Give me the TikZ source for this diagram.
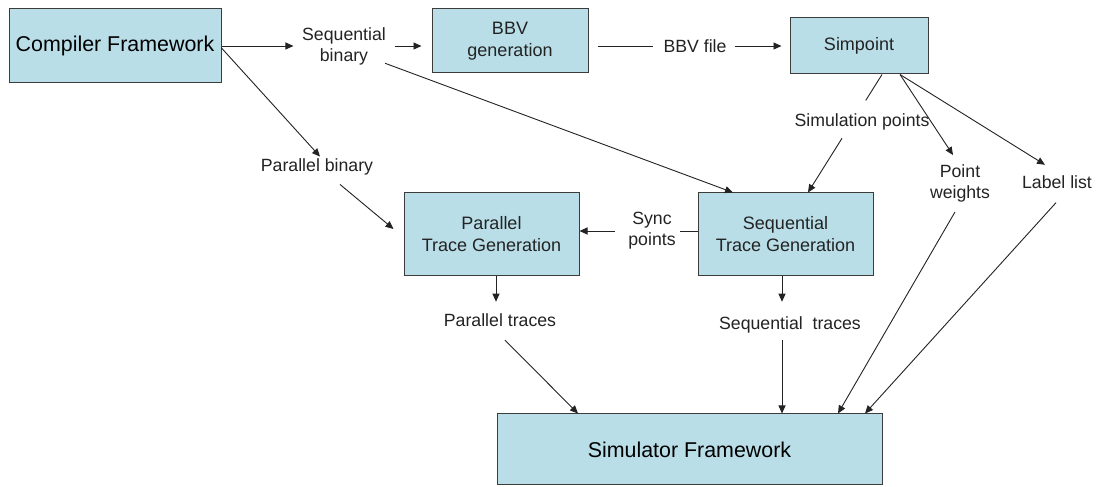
\documentclass[tikz,border=0pt]{standalone}
\usepackage{fontspec}
\setmainfont{Liberation Sans}
\usetikzlibrary{arrows.meta,calc}
\definecolor{boxfill}{RGB}{185,222,232}
\definecolor{boxline}{RGB}{60,60,60}
\definecolor{ink}{RGB}{35,35,35}
\begin{document}
\begin{tikzpicture}[x=1pt,y=1pt,
  box/.style={draw=boxline, fill=boxfill, line width=1pt, inner sep=0pt,
    align=center, text=ink, font=\fontsize{18}{22}\selectfont},
  bigbox/.style={box, text=black, font=\fontsize{21.4}{25}\selectfont},
  lbl/.style={inner sep=0pt, align=center, text=ink, font=\fontsize{17.7}{21}\selectfont},
  conn/.style={draw=ink, line width=0.9pt},
  arr/.style={conn, -{Triangle[length=8pt,width=7pt]}}]
\fill[white] (0,0) rectangle (1100,487);
\useasboundingbox (0,0) rectangle (1100,487);

% processing blocks
\node[bigbox, minimum width=212pt, minimum height=74pt] (cf) at (115,441) {Compiler Framework};
\node[box, minimum width=156pt, minimum height=64pt] (bbv) at (510,446) {BBV\\generation};
\node[box, minimum width=138pt, minimum height=56pt] (simpt) at (859,441) {Simpoint};
\node[box, minimum width=175pt, minimum height=83pt] (ptg) at (491.5,252.5) {Parallel\\Trace Generation};
\node[box, minimum width=175pt, minimum height=83pt] (stg) at (785.5,252.5) {Sequential\\Trace Generation};
\node[bigbox, minimum width=385pt, minimum height=71pt] (sim) at (689.5,37.5) {Simulator Framework};

% data labels
\node[lbl] (sb) at (344,441) {Sequential\\binary};
\node[lbl] (bbvf) at (695,441) {BBV file};
\node[lbl] (sps) at (862,365) {Simulation points};
\node[lbl] (pw) at (960,304) {Point\\weights};
\node[lbl] (ll) at (1057,305) {Label list};
\node[lbl] (pb) at (317,320) {Parallel binary};
\node[lbl] (sync) at (652,256) {Sync\\points};
\node[lbl] (pt) at (500,167) {Parallel traces};
\node[lbl] (st) at (790,162) {Sequential\ \ traces};

% top row
\draw[arr, shorten >=8.5pt] (cf.east) -- (sb.west);
\draw[arr, shorten <=8.5pt, shorten >=10pt] (sb.east) -- (sb.east -| bbv.west);
\draw[conn, shorten <=9pt, shorten >=10pt] (bbv.east |- bbvf) -- (bbvf.west);
\draw[arr, shorten <=8pt, shorten >=8pt] (bbvf.east) -- (bbvf.east -| simpt.west);

% simulation points: one line broken by its label
\coordinate (spa) at ([xshift=23pt]simpt.south);
\coordinate (spb) at ([xshift=22.5pt]stg.north);
\draw[conn] (spa) -- ($(spa)!0.22!(spb)$);
\draw[arr] ($(spa)!0.54!(spb)$) -- (spb);

% simpoint outputs
\draw[arr] ([xshift=41pt]simpt.south) -- ([xshift=-7pt,yshift=9pt]pw.north);
\draw[arr] ([xshift=41pt]simpt.south) -- ([xshift=-12pt,yshift=10.5pt]ll.north);
\draw[arr] ([xshift=-5pt,yshift=-10pt]pw.south) -- ([xshift=148.5pt]sim.north);
\draw[arr] ([xshift=-1pt,yshift=-14pt]ll.south) -- ([xshift=175.5pt]sim.north);

% binaries
\draw[arr] ([yshift=-2pt]cf.east) -- ([xshift=3pt,yshift=2pt]pb.north);
\draw[arr] ([xshift=23pt,yshift=-9pt]pb.south) -- ([xshift=-10pt,yshift=5.5pt]ptg.west);
\draw[arr] ([xshift=41pt,yshift=1.7pt]sb.south) -- ([xshift=-52.5pt]stg.north);

% sync points
\draw[conn, shorten >=4pt] (stg.west |- sync) -- (sync.east);
\draw[arr, shorten <=13pt] (sync.west) -- (sync.west -| ptg.east);

% traces
\draw[arr] ([xshift=4.5pt]ptg.south) -- ([xshift=-4pt,yshift=11.6pt]pt.north);
\draw[arr] ([xshift=5pt,yshift=-13.5pt]pt.south) -- ([xshift=-111.5pt]sim.north);
\draw[arr] ([xshift=-3.5pt]stg.south) -- ([xshift=-8pt,yshift=14.8pt]st.north);
\draw[arr] ([xshift=-8pt,yshift=-6.8pt]st.south) -- ([xshift=92.5pt]sim.north);
\end{tikzpicture}
\end{document}
